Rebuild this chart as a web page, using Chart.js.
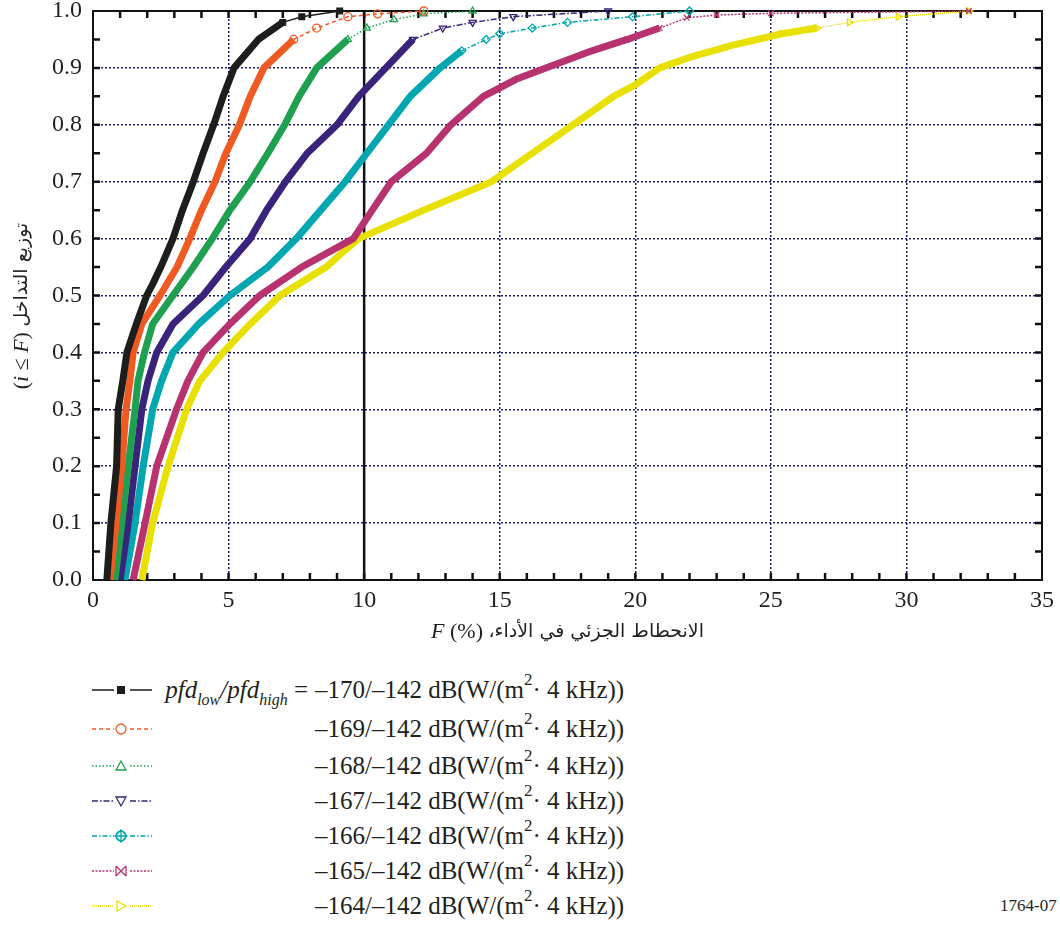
<!DOCTYPE html>
<html>
<head>
<meta charset="utf-8">
<script src="https://cdn.jsdelivr.net/npm/chart.js@4.4.0/dist/chart.umd.min.js"></script>
<style>
  body { margin: 0; background: #fff; width: 1060px; height: 925px; overflow: hidden;
         font-family: "Liberation Serif", "DejaVu Serif", serif; color: #231f20; }
  #wrap { position: absolute; left: 0; top: 0; width: 1060px; height: 650px; }
  .row { position: absolute; left: 0; width: 1060px; height: 30px; font-size: 25px; line-height: 30px; white-space: nowrap; }
  .row canvas { position: absolute; left: 90px; top: 7px; }
  .row .lab { position: absolute; right: 752px; }
  .row .val { position: absolute; left: 315px; }
  .row sub { font-size: 16px; font-style: italic; vertical-align: 0; position: relative; top: 7px; }
  .row sup { font-size: 17px; vertical-align: 0; position: relative; top: -13px; }
  #code { position: absolute; left: 1000px; top: 896px; font-size: 17px; }
</style>
</head>
<body>
<div id="wrap"><canvas id="myChart" width="1060" height="650"></canvas></div>
<div id="legend"></div>
<div id="code">1764-07</div>
<script>
// interference CDF curves, F (%) against probability
const f170 = [0.51, 0.66, 0.87, 0.93, 1.1, 1.25, 1.6, 1.98, 2.2, 2.5, 2.95, 3.3, 3.7, 4.06, 4.45, 4.8, 5.2, 6.1, 7.0, 7.7, 9.1];
const p170 = [0, 0.1, 0.2, 0.3, 0.35, 0.4, 0.45, 0.5, 0.52, 0.55, 0.6, 0.65, 0.7, 0.75, 0.8, 0.85, 0.9, 0.95, 0.98, 0.99, 1.0];

const f169 = [0.63, 0.85, 1.06, 1.22, 1.36, 1.48, 1.8, 2.47, 3.1, 3.57, 4.0, 4.5, 4.9, 5.4, 5.8, 6.3, 7.4, 8.25, 9.4, 10.5, 12.2];
const p169 = [0, 0.1, 0.2, 0.3, 0.35, 0.4, 0.45, 0.5, 0.55, 0.6, 0.65, 0.7, 0.75, 0.8, 0.85, 0.9, 0.95, 0.97, 0.99, 0.995, 1.0];

const f168 = [0.81, 1.06, 1.3, 1.55, 1.66, 1.9, 2.2, 2.95, 3.7, 4.4, 5.05, 5.8, 6.45, 7.07, 7.6, 8.25, 9.4, 10.1, 11.1, 12.2, 14.0];
const p168 = [0, 0.1, 0.2, 0.3, 0.35, 0.4, 0.45, 0.5, 0.55, 0.6, 0.65, 0.7, 0.75, 0.8, 0.85, 0.9, 0.95, 0.97, 0.985, 0.995, 1.0];

const f167 = [1.0, 1.3, 1.55, 1.8, 2.03, 2.35, 2.95, 4.06, 4.9, 5.8, 6.4, 7.1, 7.9, 9.0, 9.8, 10.8, 11.8, 12.9, 14.0, 15.5, 19.0];
const p167 = [0, 0.1, 0.2, 0.3, 0.35, 0.4, 0.45, 0.5, 0.55, 0.6, 0.65, 0.7, 0.75, 0.8, 0.85, 0.9, 0.95, 0.97, 0.98, 0.99, 1.0];

const f166 = [1.18, 1.55, 1.85, 2.2, 2.53, 2.95, 3.9, 5.05, 6.45, 7.5, 8.4, 9.3, 10.1, 10.9, 11.7, 12.8, 13.6, 14.5, 15.0, 16.2, 17.5, 19.9, 22.0];
const p166 = [0, 0.1, 0.2, 0.3, 0.35, 0.4, 0.45, 0.5, 0.55, 0.6, 0.65, 0.7, 0.75, 0.8, 0.85, 0.9, 0.93, 0.95, 0.96, 0.97, 0.98, 0.99, 1.0];

const f165 = [1.48, 1.92, 2.35, 3.08, 3.5, 4.06, 5.05, 6.15, 7.7, 9.6, 10.3, 11.0, 12.3, 13.2, 14.4, 15.6, 16.7, 18.4, 19.7, 20.9, 21.9, 23.0, 25.0, 32.3];
const p165 = [0, 0.1, 0.2, 0.3, 0.35, 0.4, 0.45, 0.5, 0.55, 0.6, 0.65, 0.7, 0.75, 0.8, 0.85, 0.88, 0.9, 0.93, 0.95, 0.97, 0.988, 0.993, 0.996, 1.0];

const f164 = [1.8, 2.2, 2.77, 3.45, 3.94, 4.8, 5.8, 6.9, 8.6, 9.3, 9.8, 12.2, 14.7, 16.2, 17.7, 19.2, 20.0, 20.9, 22.1, 23.6, 25.4, 26.7, 27.9, 29.7, 32.3];
const p164 = [0, 0.1, 0.2, 0.3, 0.35, 0.4, 0.45, 0.5, 0.55, 0.58, 0.6, 0.65, 0.7, 0.75, 0.8, 0.85, 0.87, 0.9, 0.92, 0.94, 0.96, 0.97, 0.98, 0.99, 1.0];

const seriesNames = ['–170/–142', '–169/–142', '–168/–142', '–167/–142', '–166/–142', '–165/–142', '–164/–142'];
const xTicks = [0, 5, 10, 15, 20, 25, 30, 35];
const yTicks = [0, 0.1, 0.2, 0.3, 0.4, 0.5, 0.6, 0.7, 0.8, 0.9, 1.0];
const xTitleAr = 'الانحطاط الجزئي في الأداء،';
const yTitleAr = 'توزيع التداخل';

const fs = [f170, f169, f168, f167, f166, f165, f164];
const ps = [p170, p169, p168, p167, p166, p165, p164];
const colors = ['#1d1d1b', '#f05a22', '#1ea050', '#3a237a', '#00a6b0', '#b8326f', '#e8e000'];
const marks = ['rect', 'circle', 'triangle', 'triangle', 'rectRot', 'crossRot', 'triangle'];
const rots = [0, 0, 0, 180, 0, 0, 90];
const dashes = [[], [4, 3], [1.5, 2], [6, 2, 1.5, 2], [5, 2, 1.5, 2], [2, 1.5], [1, 1]];
// above this probability the curve thins out into separate markers
const thinFrom = [0.985, 0.965, 0.96, 0.95, 0.93, 0.97, 0.97];
const navy = '#1b1b78';

const datasets = fs.map((f, i) => ({
  label: seriesNames[i],
  data: f.map((x, j) => ({ x: x, y: ps[i][j] })),
  borderColor: colors[i],
  backgroundColor: i === 0 ? colors[i] : 'rgba(0,0,0,0)',
  pointBorderColor: colors[i],
  pointBackgroundColor: i === 0 ? colors[i] : 'rgba(0,0,0,0)',
  pointStyle: marks[i],
  rotation: rots[i],
  pointRadius: c => (c.raw && c.raw.y >= thinFrom[i] - 0.02 ? 4 : 0),
  pointBorderWidth: 1.3,
  borderWidth: 7,
  borderJoinStyle: 'round',
  segment: {
    borderWidth: c => (c.p1.parsed.y > thinFrom[i] ? 1.5 : 7),
    borderDash: c => (c.p1.parsed.y > thinFrom[i] ? dashes[i] : [])
  },
  tension: 0,
  clip: false,
  order: i
}));

// mixed-style text: runs are laid out left to right, centred on (cx, cy)
function drawRuns(ctx, runs, cx, cy) {
  let total = 0;
  runs.forEach(r => { ctx.font = r.font; ctx.direction = r.dir || 'ltr'; r.w = ctx.measureText(r.text).width; total += r.w; });
  let x = cx - total / 2;
  runs.forEach(r => {
    ctx.font = r.font;
    ctx.direction = r.dir || 'ltr';
    ctx.fillText(r.text, x, cy);
    x += r.w;
  });
}

const latin = '22px "Liberation Serif"';
const latinIt = 'italic 22px "Liberation Serif"';
const arabic = '19px "DejaVu Sans"';

const framePlugin = {
  id: 'frame',
  beforeDatasetsDraw(chart) {
    const { ctx, chartArea: a, scales: { x, y } } = chart;
    ctx.save();
    ctx.strokeStyle = '#111';
    ctx.lineWidth = 2.5;
    const x10 = x.getPixelForValue(10);
    ctx.beginPath();
    ctx.moveTo(x10, a.top);
    ctx.lineTo(x10, a.bottom);
    ctx.stroke();
    ctx.lineWidth = 2;
    ctx.strokeRect(a.left, a.top, a.right - a.left, a.bottom - a.top);
    ctx.lineWidth = 2.5;
    ctx.beginPath();
    for (let v = 1; v < 35; v++) {
      const px = x.getPixelForValue(v);
      ctx.moveTo(px, a.bottom); ctx.lineTo(px, a.bottom - 7);
      ctx.moveTo(px, a.top); ctx.lineTo(px, a.top + 7);
    }
    for (let k = 1; k < 20; k++) {
      const py = y.getPixelForValue(k * 0.05);
      ctx.moveTo(a.left, py); ctx.lineTo(a.left + 7, py);
      ctx.moveTo(a.right, py); ctx.lineTo(a.right - 7, py);
    }
    ctx.stroke();
    ctx.restore();
  },
  afterDraw(chart) {
    const { ctx, chartArea: a } = chart;
    ctx.save();
    ctx.fillStyle = '#231f20';
    ctx.textAlign = 'left';
    ctx.textBaseline = 'middle';
    drawRuns(ctx, [
      { text: 'F', font: latinIt },
      { text: ' (%) ', font: latin },
      { text: xTitleAr, font: arabic, dir: 'rtl' }
    ], (a.left + a.right) / 2, 632);
    ctx.translate(22, 306);
    ctx.rotate(-Math.PI / 2);
    drawRuns(ctx, [
      { text: '(', font: latin },
      { text: 'i', font: latinIt },
      { text: ' ≤ ', font: latin },
      { text: 'F', font: latinIt },
      { text: ') ', font: latin },
      { text: yTitleAr, font: arabic, dir: 'rtl' }
    ], 0, 0);
    ctx.restore();
  }
};

const xTickFont = { family: '"Liberation Serif", serif', size: 24 };
// zero line height keeps the y labels from padding the top of the plot
const yTickFont = { family: '"Liberation Serif", serif', size: 24, lineHeight: 0 };

const ctx = document.getElementById('myChart').getContext('2d');
const myChart = new Chart(ctx, {
  type: 'line',
  data: { datasets: datasets },
  options: {
    responsive: false,
    animation: false,
    layout: { autoPadding: false, padding: { left: 0, right: 17, top: 0, bottom: 0 } },
    plugins: { legend: { display: false }, tooltip: { enabled: false } },
    scales: {
      x: {
        type: 'linear', min: 0, max: 35,
        afterBuildTicks: s => { s.ticks = xTicks.map(v => ({ value: v })); },
        afterFit: s => { s.height = 70; },
        ticks: { font: xTickFont, color: '#231f20', padding: 6, maxRotation: 0 },
        grid: { color: navy, lineWidth: 1.5, drawTicks: false },
        border: { display: false, dash: [2, 2] }
      },
      y: {
        min: 0, max: 1,
        afterBuildTicks: s => { s.ticks = yTicks.map(v => ({ value: v })); },
        afterFit: s => { s.width = 93; },
        ticks: { font: yTickFont, color: '#231f20', padding: 11, callback: v => v.toFixed(1) },
        grid: { color: navy, lineWidth: 1.5, drawTicks: false },
        border: { display: false, dash: [2, 2] }
      }
    }
  },
  plugins: [framePlugin]
});

// legend rows below the chart
function drawMark(c, style, rot, color, filled) {
  const x = 31, y = 8, r = 5;
  c.save();
  c.translate(x, y);
  c.rotate(rot * Math.PI / 180);
  c.strokeStyle = color;
  c.fillStyle = color;
  c.lineWidth = 1.3;
  c.beginPath();
  if (style === 'rect') {
    c.rect(-4, -4, 8, 8);
  } else if (style === 'circle') {
    c.arc(0, 0, r, 0, Math.PI * 2);
  } else if (style === 'triangle') {
    c.moveTo(0, -r); c.lineTo(r, r * 0.8); c.lineTo(-r, r * 0.8); c.closePath();
  } else if (style === 'rectRot') {
    c.moveTo(0, -r - 1); c.lineTo(r + 1, 0); c.lineTo(0, r + 1); c.lineTo(-r - 1, 0); c.closePath();
    c.moveTo(0, -r - 1); c.lineTo(0, r + 1); c.moveTo(-r - 1, 0); c.lineTo(r + 1, 0);
    c.moveTo(r, 0); c.arc(0, 0, r, 0, Math.PI * 2);
  } else if (style === 'crossRot') {
    c.moveTo(-r, -r); c.lineTo(r, r); c.moveTo(r, -r); c.lineTo(-r, r);
    c.moveTo(-r, -r); c.lineTo(-r, r); c.moveTo(r, -r); c.lineTo(r, r);
  }
  if (filled) c.fill(); else c.stroke();
  c.restore();
}

const legend = document.getElementById('legend');
const rowTops = [675, 714, 751, 786, 821, 856, 891];
seriesNames.forEach((name, i) => {
  const row = document.createElement('div');
  row.className = 'row';
  row.style.top = rowTops[i] + 'px';
  const cv = document.createElement('canvas');
  cv.width = 64; cv.height = 16;
  row.appendChild(cv);
  const c = cv.getContext('2d');
  c.strokeStyle = colors[i];
  c.lineWidth = 1.3;
  c.setLineDash(dashes[i]);
  c.beginPath();
  c.moveTo(2, 8); c.lineTo(24, 8);
  c.moveTo(40, 8); c.lineTo(62, 8);
  c.stroke();
  c.setLineDash([]);
  drawMark(c, marks[i], rots[i], colors[i], i === 0);
  if (i === 0) {
    const lab = document.createElement('span');
    lab.className = 'lab';
    lab.innerHTML = '<i>pfd</i><sub>low</sub><i>/pfd</i><sub>high</sub> =';
    row.appendChild(lab);
  }
  const val = document.createElement('span');
  val.className = 'val';
  val.innerHTML = name + ' dB(W/(m<sup>2</sup>· 4 kHz))';
  row.appendChild(val);
  legend.appendChild(row);
});
</script>
</body>
</html>
